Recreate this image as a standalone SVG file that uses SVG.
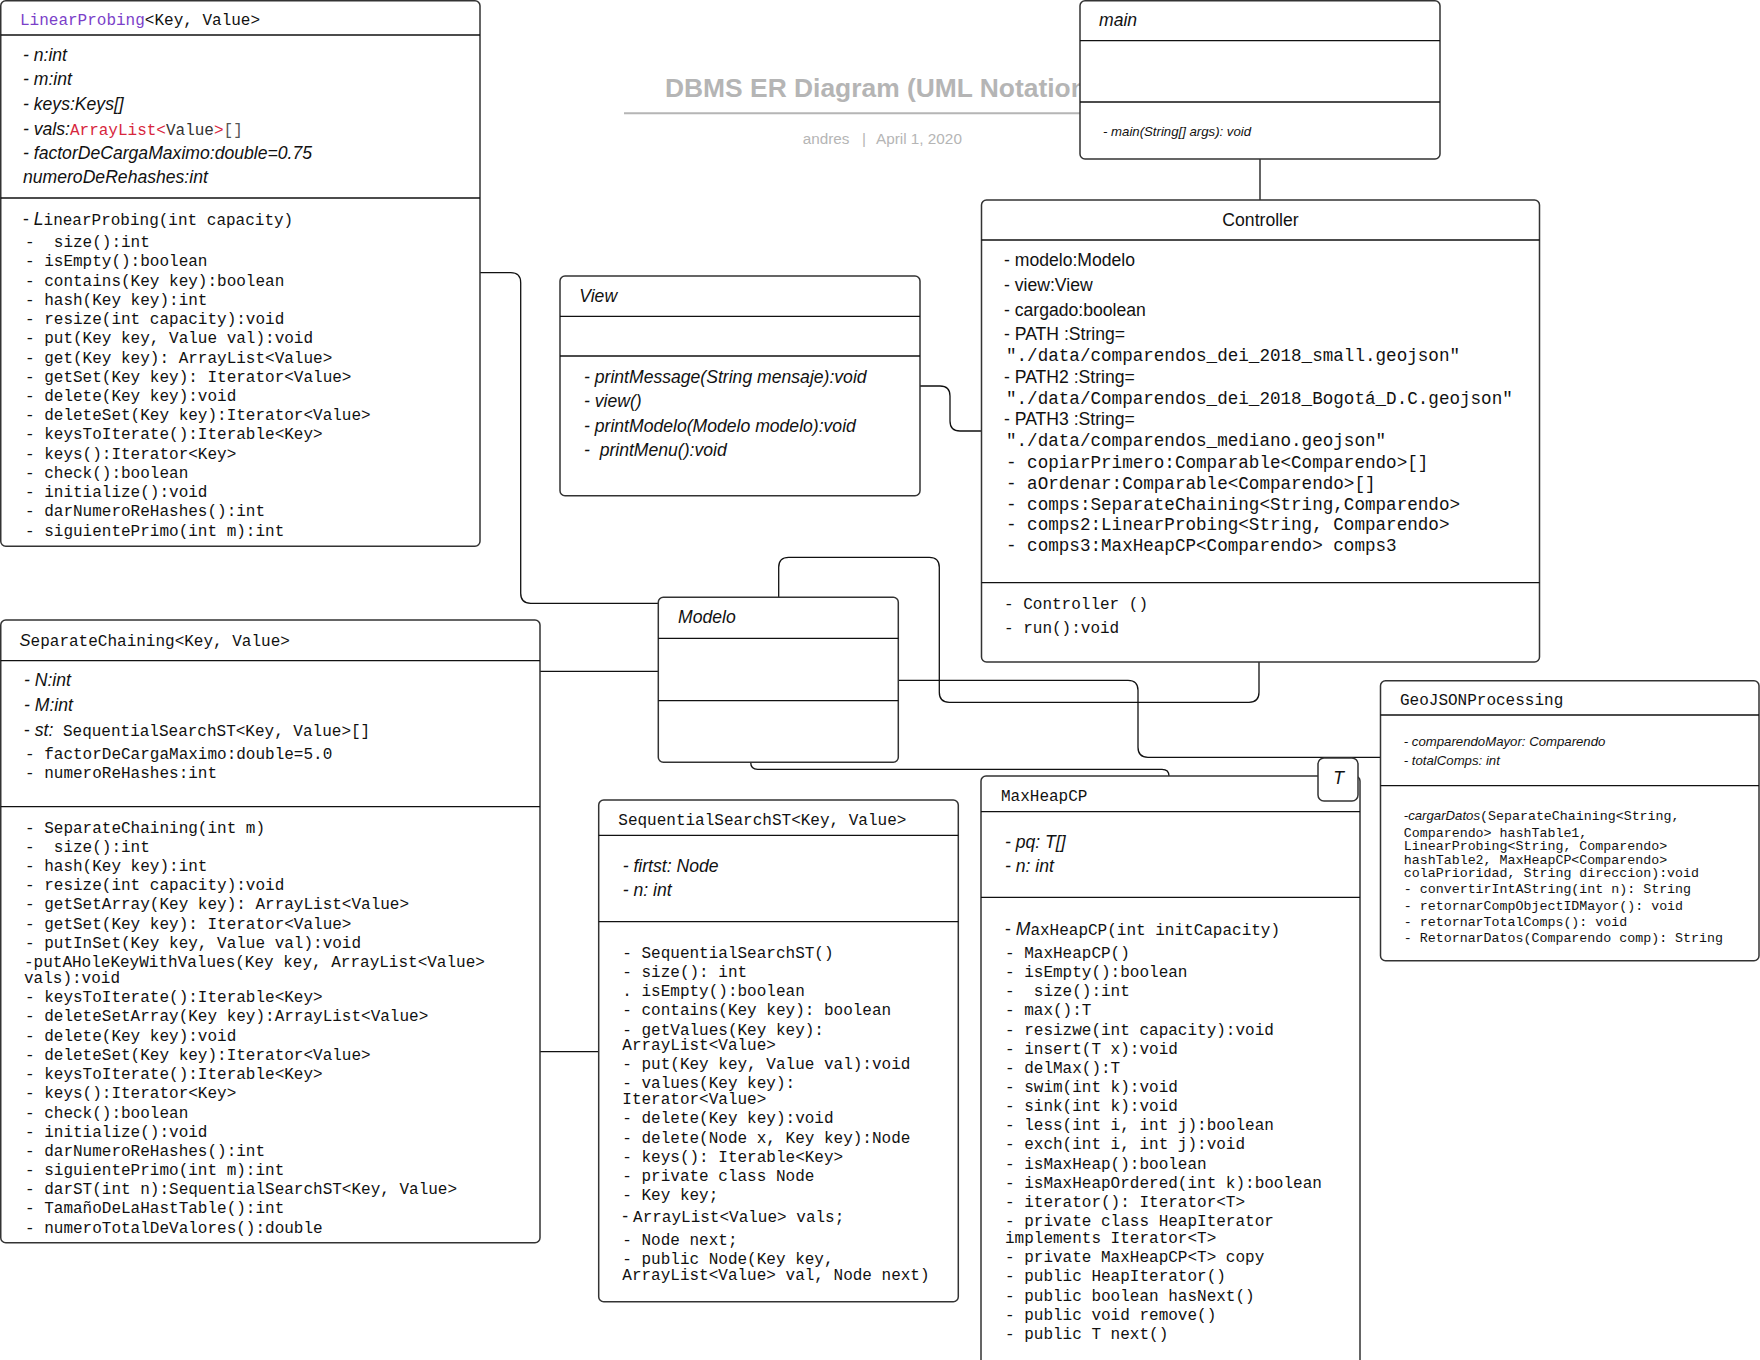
<svg xmlns="http://www.w3.org/2000/svg" width="1760" height="1360" viewBox="0 0 1760 1360">
<style>
text{white-space:pre}
.box{fill:#fff;stroke:#333;stroke-width:1.5}
.sep{stroke:#111;stroke-width:1.3}
.conn{fill:none;stroke:#111;stroke-width:1.3}
.it{font-family:"Liberation Sans",Arial,sans-serif;font-style:italic;font-size:17.6px;fill:#111}
.sn{font-family:"Liberation Sans",Arial,sans-serif;font-size:17.6px;fill:#111}
.m{font-family:"Liberation Mono","Courier New",monospace;font-size:16px;fill:#111}
.mc{font-family:"Liberation Mono","Courier New",monospace;font-size:17.6px;fill:#111}
.ms{font-family:"Liberation Mono","Courier New",monospace;font-size:13.3px;fill:#111}
.its{font-family:"Liberation Sans",Arial,sans-serif;font-style:italic;font-size:13.2px;fill:#111}
.ttl{font-family:"Liberation Sans",Arial,sans-serif;font-weight:bold;font-size:26.4px;fill:#b5b5b5}
.sub{font-family:"Liberation Sans",Arial,sans-serif;font-size:15.3px;fill:#b5b5b5}
.mi{font-family:"Liberation Sans",Arial,sans-serif;font-style:italic}
.mm{font-family:"Liberation Mono","Courier New",monospace}
</style>

<g id="title">
<text class="ttl" x="665" y="97">DBMS ER Diagram (UML Notation)</text>
<line x1="624" y1="113.3" x2="1080" y2="113.3" stroke="#b5b5b5" stroke-width="2"/>
<text class="sub" x="802.7" y="144">andres</text>
<text class="sub" x="862" y="144">|</text>
<text class="sub" x="876" y="144">April 1, 2020</text>
</g>

<g id="connectors">
<path class="conn" d="M480 272.7 H510.7 Q520.7 272.7 520.7 282.7 V593.3 Q520.7 603.3 530.7 603.3 H658.3"/>
<path class="conn" d="M540 671.3 H658.3"/>
<path class="conn" d="M540 1051.7 H598.7"/>
<path class="conn" d="M920 386 H940 Q950 386 950 396 V421 Q950 431 960 431 H981.5"/>
<path class="conn" d="M1260 159 V200"/>
<path class="conn" d="M778.7 597.3 V567.3 Q778.7 557.3 788.7 557.3 H929.3 Q939.3 557.3 939.3 567.3 V692.3 Q939.3 702.3 949.3 702.3 H1249 Q1259 702.3 1259 692.3 V662"/>
<path class="conn" d="M898.3 680.3 H1128 Q1138 680.3 1138 690.3 V747.3 Q1138 757.3 1148 757.3 H1380.5"/>
<path class="conn" d="M750.7 762.3 Q750.7 769.3 757.7 769.3 H1162 Q1169 769.3 1169 776"/>
</g>

<g id="LinearProbing">
<rect class="box" x="0.75" y="0.75" width="479.25" height="545.5" rx="5"/>
<line class="sep" x1="0.75" y1="35" x2="480" y2="35"/>
<line class="sep" x1="0.75" y1="198" x2="480" y2="198"/>
<text class="m" x="20" y="24.5"><tspan fill="#7b3fc9">LinearProbing</tspan>&lt;Key, Value&gt;</text>
<text class="it" x="23" y="61">- n:int</text>
<text class="it" x="23" y="85.3">- m:int</text>
<text class="it" x="23" y="110">- keys:Keys[]</text>
<text class="it" x="23" y="135">- vals:<tspan class="mm" font-style="normal" font-size="16px" fill="#d7263d">ArrayList&lt;</tspan><tspan class="mm" font-style="normal" font-size="16px" fill="#333">Value</tspan><tspan class="mm" font-style="normal" font-size="16px" fill="#d7263d">&gt;</tspan><tspan class="mm" font-style="normal" font-size="16px" fill="#555">[]</tspan></text>
<text class="it" x="23" y="159">- factorDeCargaMaximo:double=0.75</text>
<text class="it" x="23" y="183">numeroDeRehashes:int</text>
<text class="sn" x="23" y="224.5">- <tspan font-style="italic">L</tspan><tspan class="mm" font-size="16px">inearProbing(int capacity)</tspan></text>
<text class="m" x="25" y="247.2">-  size():int</text>
<text class="m" x="25" y="266.4">- isEmpty():boolean</text>
<text class="m" x="25" y="285.6">- contains(Key key):boolean</text>
<text class="m" x="25" y="304.9">- hash(Key key):int</text>
<text class="m" x="25" y="324.1">- resize(int capacity):void</text>
<text class="m" x="25" y="343.3">- put(Key key, Value val):void</text>
<text class="m" x="25" y="362.5">- get(Key key): ArrayList&lt;Value&gt;</text>
<text class="m" x="25" y="381.7">- getSet(Key key): Iterator&lt;Value&gt;</text>
<text class="m" x="25" y="401">- delete(Key key):void</text>
<text class="m" x="25" y="420.2">- deleteSet(Key key):Iterator&lt;Value&gt;</text>
<text class="m" x="25" y="439.4">- keysToIterate():Iterable&lt;Key&gt;</text>
<text class="m" x="25" y="458.6">- keys():Iterator&lt;Key&gt;</text>
<text class="m" x="25" y="477.8">- check():boolean</text>
<text class="m" x="25" y="497.1">- initialize():void</text>
<text class="m" x="25" y="516.3">- darNumeroReHashes():int</text>
<text class="m" x="25" y="535.5">- siguientePrimo(int m):int</text>
</g>

<g id="View">
<rect class="box" x="560" y="276" width="360" height="219.7" rx="5"/>
<line class="sep" x1="560" y1="316.3" x2="920" y2="316.3"/>
<line class="sep" x1="560" y1="356" x2="920" y2="356"/>
<text class="it" x="579.3" y="301.5">View</text>
<text class="it" x="584" y="382.7">- printMessage(String mensaje):void</text>
<text class="it" x="584" y="407">- view()</text>
<text class="it" x="584" y="431.7">- printModelo(Modelo modelo):void</text>
<text class="it" x="584" y="456">-  printMenu():void</text>
</g>

<g id="main">
<rect class="box" x="1080" y="0.75" width="360" height="158.25" rx="5"/>
<line class="sep" x1="1080" y1="40.7" x2="1440" y2="40.7"/>
<line class="sep" x1="1080" y1="102" x2="1440" y2="102"/>
<text class="it" x="1099" y="26">main</text>
<text class="its" x="1103" y="135.5">- main(String[] args): void</text>
</g>

<g id="Controller">
<rect class="box" x="981.5" y="200" width="558" height="462" rx="5"/>
<line class="sep" x1="981.5" y1="240" x2="1539.5" y2="240"/>
<line class="sep" x1="981.5" y1="582.7" x2="1539.5" y2="582.7"/>
<text class="sn" x="1260.5" y="226" text-anchor="middle">Controller</text>
<text class="sn" x="1004" y="266">- modelo:Modelo</text>
<text class="sn" x="1004" y="291">- view:View</text>
<text class="sn" x="1004" y="316">- cargado:boolean</text>
<text class="sn" x="1004" y="340">- PATH :String=</text>
<text class="mc" x="1006" y="361">"./data/comparendos_dei_2018_small.geojson"</text>
<text class="sn" x="1004" y="383">- PATH2 :String=</text>
<text class="mc" x="1006" y="404">"./data/Comparendos_dei_2018_Bogotá_D.C.geojson"</text>
<text class="sn" x="1004" y="425">- PATH3 :String=</text>
<text class="mc" x="1006" y="446">"./data/comparendos_mediano.geojson"</text>
<text class="mc" x="1006" y="468">- copiarPrimero:Comparable&lt;Comparendo&gt;[]</text>
<text class="mc" x="1006" y="489">- aOrdenar:Comparable&lt;Comparendo&gt;[]</text>
<text class="mc" x="1006" y="509.5">- comps:SeparateChaining&lt;String,Comparendo&gt;</text>
<text class="mc" x="1006" y="530">- comps2:LinearProbing&lt;String, Comparendo&gt;</text>
<text class="mc" x="1006" y="551">- comps3:MaxHeapCP&lt;Comparendo&gt; comps3</text>
<text class="m" x="1004" y="608.5" font-size="15.4px">- Controller ()</text>
<text class="m" x="1004" y="632.5" font-size="15.4px">- run():void</text>
</g>

<g id="Modelo">
<rect class="box" x="658.3" y="597.3" width="240" height="165" rx="5"/>
<line class="sep" x1="658.3" y1="638.3" x2="898.3" y2="638.3"/>
<line class="sep" x1="658.3" y1="700.7" x2="898.3" y2="700.7"/>
<text class="it" x="678" y="623">Modelo</text>
</g>

<g id="SeparateChaining">
<rect class="box" x="0.75" y="620" width="539.25" height="622.7" rx="5"/>
<line class="sep" x1="0.75" y1="660.7" x2="540" y2="660.7"/>
<line class="sep" x1="0.75" y1="806.7" x2="540" y2="806.7"/>
<text class="m" x="19.6" y="646.2"><tspan class="mi" font-size="16.5px">S</tspan>eparateChaining&lt;Key, Value&gt;</text>
<text class="it" x="24" y="686">- N:int</text>
<text class="it" x="24" y="711">- M:int</text>
<text class="sn" x="24" y="736">- <tspan font-style="italic">st:</tspan><tspan class="mm" font-size="16px"> SequentialSearchST&lt;Key, Value&gt;[]</tspan></text>
<text class="m" x="25" y="758.8">- factorDeCargaMaximo:double=5.0</text>
<text class="m" x="25" y="778.2">- numeroReHashes:int</text>
<text class="m" x="25" y="832.8">- SeparateChaining(int m)</text>
<text class="m" x="25" y="852.2">-  size():int</text>
<text class="m" x="25" y="871.2">- hash(Key key):int</text>
<text class="m" x="25" y="890.2">- resize(int capacity):void</text>
<text class="m" x="25" y="909.2">- getSetArray(Key key): ArrayList&lt;Value&gt;</text>
<text class="m" x="25" y="928.5">- getSet(Key key): Iterator&lt;Value&gt;</text>
<text class="m" x="25" y="947.8">- putInSet(Key key, Value val):void</text>
<text class="m" x="24" y="967.2">-putAHoleKeyWithValues(Key key, ArrayList&lt;Value&gt;</text>
<text class="m" x="24" y="982.8">vals):void</text>
<text class="m" x="25" y="1002.2">- keysToIterate():Iterable&lt;Key&gt;</text>
<text class="m" x="25" y="1021.2">- deleteSetArray(Key key):ArrayList&lt;Value&gt;</text>
<text class="m" x="25" y="1040.5">- delete(Key key):void</text>
<text class="m" x="25" y="1059.5">- deleteSet(Key key):Iterator&lt;Value&gt;</text>
<text class="m" x="25" y="1078.8">- keysToIterate():Iterable&lt;Key&gt;</text>
<text class="m" x="25" y="1098.2">- keys():Iterator&lt;Key&gt;</text>
<text class="m" x="25" y="1117.5">- check():boolean</text>
<text class="m" x="25" y="1136.5">- initialize():void</text>
<text class="m" x="25" y="1155.5">- darNumeroReHashes():int</text>
<text class="m" x="25" y="1175.2">- siguientePrimo(int m):int</text>
<text class="m" x="25" y="1194.2">- darST(int n):SequentialSearchST&lt;Key, Value&gt;</text>
<text class="m" x="25" y="1213.2">- TamañoDeLaHastTable():int</text>
<text class="m" x="25" y="1232.5">- numeroTotalDeValores():double</text>
</g>

<g id="SequentialSearchST">
<rect class="box" x="598.7" y="800" width="359.6" height="501.7" rx="5"/>
<line class="sep" x1="598.7" y1="835.3" x2="958.3" y2="835.3"/>
<line class="sep" x1="598.7" y1="921.7" x2="958.3" y2="921.7"/>
<text class="m" x="618.3" y="824.8">SequentialSearchST&lt;Key, Value&gt;</text>
<text class="it" x="622.7" y="872">- firtst: Node</text>
<text class="it" x="622.7" y="896">- n: int</text>
<text class="m" x="622.3" y="957.8">- SequentialSearchST()</text>
<text class="m" x="622.3" y="976.5">- size(): int</text>
<text class="m" x="622.3" y="996.2">. isEmpty():boolean</text>
<text class="m" x="622.3" y="1015.2">- contains(Key key): boolean</text>
<text class="m" x="622.3" y="1034.5">- getValues(Key key):</text>
<text class="m" x="622.3" y="1050.2">ArrayList&lt;Value&gt;</text>
<text class="m" x="622.3" y="1068.8">- put(Key key, Value val):void</text>
<text class="m" x="622.3" y="1088.2">- values(Key key):</text>
<text class="m" x="622.3" y="1103.5">Iterator&lt;Value&gt;</text>
<text class="m" x="622.3" y="1123.2">- delete(Key key):void</text>
<text class="m" x="622.3" y="1142.5">- delete(Node x, Key key):Node</text>
<text class="m" x="622.3" y="1161.5">- keys(): Iterable&lt;Key&gt;</text>
<text class="m" x="622.3" y="1180.5">- private class Node</text>
<text class="m" x="622.3" y="1200.2">- Key key;</text>
<text class="sn" x="622.3" y="1221.5">- <tspan class="mm" font-size="16px">ArrayList&lt;Value&gt; vals;</tspan></text>
<text class="m" x="622.3" y="1244.5">- Node next;</text>
<text class="m" x="622.3" y="1264.2">- public Node(Key key,</text>
<text class="m" x="622.3" y="1280.2">ArrayList&lt;Value&gt; val, Node next)</text>
</g>

<g id="MaxHeapCP">
<rect class="box" x="981" y="776" width="379" height="600" rx="5"/>
<line class="sep" x1="981" y1="811.7" x2="1360" y2="811.7"/>
<line class="sep" x1="981" y1="897.3" x2="1360" y2="897.3"/>
<text class="m" x="1001" y="800.5">MaxHeapCP</text>
<text class="it" x="1005" y="848.3">- pq: T[]</text>
<text class="it" x="1005" y="872">- n: int</text>
<text class="sn" x="1005" y="935">- <tspan font-style="italic">M</tspan><tspan class="mm" font-size="16px">axHeapCP(int initCapacity)</tspan></text>
<text class="m" x="1005" y="958">- MaxHeapCP()</text>
<text class="m" x="1005" y="977.1">- isEmpty():boolean</text>
<text class="m" x="1005" y="996.3">-  size():int</text>
<text class="m" x="1005" y="1015.4">- max():T</text>
<text class="m" x="1005" y="1034.5">- resizwe(int capacity):void</text>
<text class="m" x="1005" y="1053.6">- insert(T x):void</text>
<text class="m" x="1005" y="1072.8">- delMax():T</text>
<text class="m" x="1005" y="1091.9">- swim(int k):void</text>
<text class="m" x="1005" y="1111">- sink(int k):void</text>
<text class="m" x="1005" y="1130.2">- less(int i, int j):boolean</text>
<text class="m" x="1005" y="1149.3">- exch(int i, int j):void</text>
<text class="m" x="1005" y="1168.5">- isMaxHeap():boolean</text>
<text class="m" x="1005" y="1187.6">- isMaxHeapOrdered(int k):boolean</text>
<text class="m" x="1005" y="1206.7">- iterator(): Iterator&lt;T&gt;</text>
<text class="m" x="1005" y="1225.9">- private class HeapIterator</text>
<text class="m" x="1005" y="1243.1">implements Iterator&lt;T&gt;</text>
<text class="m" x="1005" y="1262.2">- private MaxHeapCP&lt;T&gt; copy</text>
<text class="m" x="1005" y="1281.4">- public HeapIterator()</text>
<text class="m" x="1005" y="1300.5">- public boolean hasNext()</text>
<text class="m" x="1005" y="1319.7">- public void remove()</text>
<text class="m" x="1005" y="1338.8">- public T next()</text>
</g>

<g id="MaxHeapCP-T">
<rect class="box" x="1318" y="758" width="40" height="43" rx="6"/>
<text class="it" x="1338.5" y="783.5" text-anchor="middle">T</text>
</g>

<g id="GeoJSONProcessing">
<rect class="box" x="1380.5" y="680.7" width="378.5" height="280" rx="5"/>
<line class="sep" x1="1380.5" y1="715" x2="1759" y2="715"/>
<line class="sep" x1="1380.5" y1="785.7" x2="1759" y2="785.7"/>
<text class="m" x="1400" y="704.8">GeoJSONProcessing</text>
<text class="its" x="1403.8" y="745.5">- comparendoMayor: Comparendo</text>
<text class="its" x="1403.8" y="764.5">- totalComps: int</text>
<text class="ms" x="1403.8" y="819.8"><tspan class="mi" font-size="13.2px">-cargarDatos</tspan>(SeparateChaining&lt;String,</text>
<text class="ms" x="1403.8" y="837.2">Comparendo&gt; hashTable1,</text>
<text class="ms" x="1403.8" y="850.2">LinearProbing&lt;String, Comparendo&gt;</text>
<text class="ms" x="1403.8" y="863.5">hashTable2, MaxHeapCP&lt;Comparendo&gt;</text>
<text class="ms" x="1403.8" y="876.5">colaPrioridad, String direccion):void</text>
<text class="ms" x="1403.8" y="893.2">- convertirIntAString(int n): String</text>
<text class="ms" x="1403.8" y="909.5">- retornarCompObjectIDMayor(): void</text>
<text class="ms" x="1403.8" y="926.2">- retornarTotalComps(): void</text>
<text class="ms" x="1403.8" y="942.2">- RetornarDatos(Comparendo comp): String</text>
</g>
</svg>
